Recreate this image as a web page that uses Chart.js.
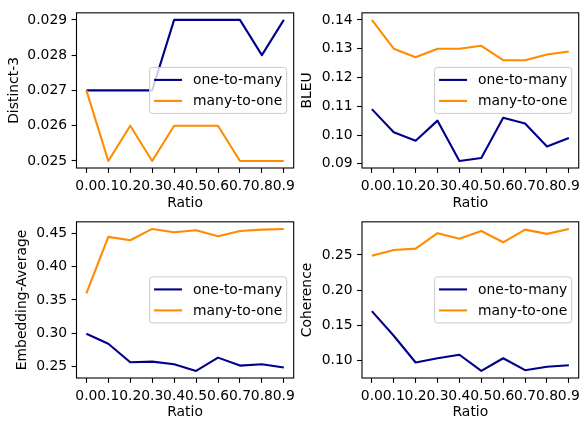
<!DOCTYPE html>
<html>
<head>
<meta charset="utf-8">
<script src="https://cdn.jsdelivr.net/npm/chart.js@4/dist/chart.umd.min.js"></script>
<style>
  html, body { margin: 0; padding: 0; background: #fff; }
  body { width: 585px; height: 423px; position: relative; overflow: hidden; }
  .cell { position: absolute; }
</style>
</head>
<body>
<div class="cell" id="c1" style="left:0;top:0;width:300px;height:212px"><canvas></canvas></div>
<div class="cell" id="c2" style="left:290px;top:0;width:295px;height:212px"><canvas></canvas></div>
<div class="cell" id="c3" style="left:0;top:209px;width:300px;height:214px"><canvas></canvas></div>
<div class="cell" id="c4" style="left:290px;top:209px;width:295px;height:214px"><canvas></canvas></div>
<script>
// x values and tick labels
const ratios = [0.0, 0.1, 0.2, 0.3, 0.4, 0.5, 0.6, 0.7, 0.8, 0.9];
const seriesNames = ['one-to-many', 'many-to-one'];

// Distinct-3
const distinctOneToMany = [0.027, 0.027, 0.027, 0.027, 0.029, 0.029, 0.029, 0.029, 0.028, 0.029];
const distinctManyToOne = [0.027, 0.025, 0.026, 0.025, 0.026, 0.026, 0.026, 0.025, 0.025, 0.025];
const distinctTicks = [0.025, 0.026, 0.027, 0.028, 0.029];

// BLEU
const bleuOneToMany = [0.109, 0.101, 0.098, 0.105, 0.091, 0.092, 0.106, 0.104, 0.096, 0.099];
const bleuManyToOne = [0.140, 0.130, 0.127, 0.130, 0.130, 0.131, 0.126, 0.126, 0.128, 0.129];
const bleuTicks = [0.09, 0.10, 0.11, 0.12, 0.13, 0.14];

// Embedding-Average
const embedOneToMany = [0.299, 0.284, 0.256, 0.257, 0.253, 0.243, 0.263, 0.251, 0.253, 0.248];
const embedManyToOne = [0.360, 0.445, 0.440, 0.457, 0.452, 0.455, 0.446, 0.454, 0.456, 0.457];
const embedTicks = [0.25, 0.30, 0.35, 0.40, 0.45];

// Coherence
const coherOneToMany = [0.170, 0.135, 0.097, 0.103, 0.108, 0.085, 0.103, 0.086, 0.091, 0.093];
const coherManyToOne = [0.249, 0.257, 0.259, 0.281, 0.273, 0.284, 0.268, 0.286, 0.280, 0.287];
const coherTicks = [0.10, 0.15, 0.20, 0.25];

const colors = ['#00008b', '#ff8c00'];
const FONT = { family: 'DejaVu Sans', size: 13.9 };

// axes frame + matplotlib-like legend at center right
const framePlugin = {
  id: 'frame',
  afterDraw(chart) {
    const { ctx, chartArea: a } = chart;
    ctx.save();
    ctx.strokeStyle = '#000';
    ctx.lineWidth = 1.1;
    ctx.strokeRect(a.left, a.top, a.right - a.left, a.bottom - a.top);

    ctx.font = FONT.size + 'px "' + FONT.family + '"';
    const textW = Math.max(...seriesNames.map(n => ctx.measureText(n).width));
    const w = 4.5 + 28 + 11 + textW + 4.5;
    const h = 46;
    const x = a.right - 7 - w;
    const cy = (a.top + a.bottom) / 2;
    const y = cy - h / 2;
    ctx.beginPath();
    ctx.roundRect(x, y, w, h, 2.8);
    ctx.fillStyle = 'rgba(255,255,255,0.8)';
    ctx.fill();
    ctx.strokeStyle = '#cccccc';
    ctx.lineWidth = 1;
    ctx.stroke();
    ctx.textBaseline = 'middle';
    ctx.textAlign = 'left';
    seriesNames.forEach((n, i) => {
      const ry = cy + (i === 0 ? -10.5 : 10.5);
      ctx.beginPath();
      ctx.moveTo(x + 4.5, ry);
      ctx.lineTo(x + 32.5, ry);
      ctx.strokeStyle = colors[i];
      ctx.lineWidth = 2.1;
      ctx.stroke();
      ctx.fillStyle = '#000';
      ctx.fillText(n, x + 43.5, ry + 0.5);
    });
    ctx.restore();
  }
};

function makePanel(id, yTitle, oneToMany, manyToOne, yTicks, decimals, box) {
  const all = oneToMany.concat(manyToOne);
  const lo = Math.min(...all), hi = Math.max(...all);
  const m = (hi - lo) * 0.05;
  const axisGrid = { drawOnChartArea: false, tickLength: 4.9, tickColor: '#000', tickWidth: 1.1 };
  const ctx = document.querySelector('#' + id + ' canvas').getContext('2d');
  return new Chart(ctx, {
    type: 'line',
    data: {
      datasets: [
        { label: seriesNames[0], data: ratios.map((r, i) => ({ x: r, y: oneToMany[i] })),
          borderColor: colors[0], order: 1 },
        { label: seriesNames[1], data: ratios.map((r, i) => ({ x: r, y: manyToOne[i] })),
          borderColor: colors[1], order: 0 },
      ],
    },
    options: {
      responsive: true,
      maintainAspectRatio: false,
      animation: false,
      events: [],
      layout: { padding: { left: 0, top: box.padTop, right: box.padRight, bottom: 0 } },
      elements: {
        line: { borderWidth: 2.1, tension: 0, fill: false, borderJoinStyle: 'round' },
        point: { radius: 0 },
      },
      plugins: { legend: { display: false }, tooltip: { enabled: false } },
      scales: {
        x: {
          type: 'linear',
          min: -0.045,
          max: 0.945,
          afterBuildTicks: s => { s.ticks = ratios.map(v => ({ value: v })); },
          afterFit: s => { s.height = box.xH; },
          ticks: { callback: v => v.toFixed(1), autoSkip: false, maxRotation: 0, minRotation: 0,
            padding: 5, color: '#000', font: FONT },
          grid: axisGrid,
          border: { display: false },
          title: { display: true, text: 'Ratio', color: '#000', font: FONT,
            padding: { top: 0, bottom: box.ratioPad } },
        },
        y: {
          min: lo - m,
          max: hi + m,
          afterBuildTicks: s => { s.ticks = yTicks.map(v => ({ value: v })); },
          afterFit: s => { s.width = box.yW; },
          ticks: { callback: v => v.toFixed(decimals), padding: 4.5, color: '#000', font: FONT },
          grid: axisGrid,
          border: { display: false },
          title: { display: true, text: yTitle, color: '#000', font: FONT,
            padding: { top: box.titlePad, bottom: 0 } },
        },
      },
    },
    plugins: [framePlugin],
  });
}

makePanel('c1', 'Distinct-3', distinctOneToMany, distinctManyToOne, distinctTicks, 3,
  { padTop: 4, padRight: 3, yW: 76.5, xH: 44, titlePad: 6, ratioPad: 0 });
makePanel('c2', 'BLEU', bleuOneToMany, bleuManyToOne, bleuTicks, 2,
  { padTop: 4, padRight: 2, yW: 72, xH: 44, titlePad: 9.5, ratioPad: 0 });
makePanel('c3', 'Embedding-Average', embedOneToMany, embedManyToOne, embedTicks, 2,
  { padTop: 4, padRight: 3, yW: 76.5, xH: 45, titlePad: 14, ratioPad: 2 });
makePanel('c4', 'Coherence', coherOneToMany, coherManyToOne, coherTicks, 2,
  { padTop: 4, padRight: 2, yW: 72, xH: 45, titlePad: 9.5, ratioPad: 2 });
</script>
</body>
</html>
